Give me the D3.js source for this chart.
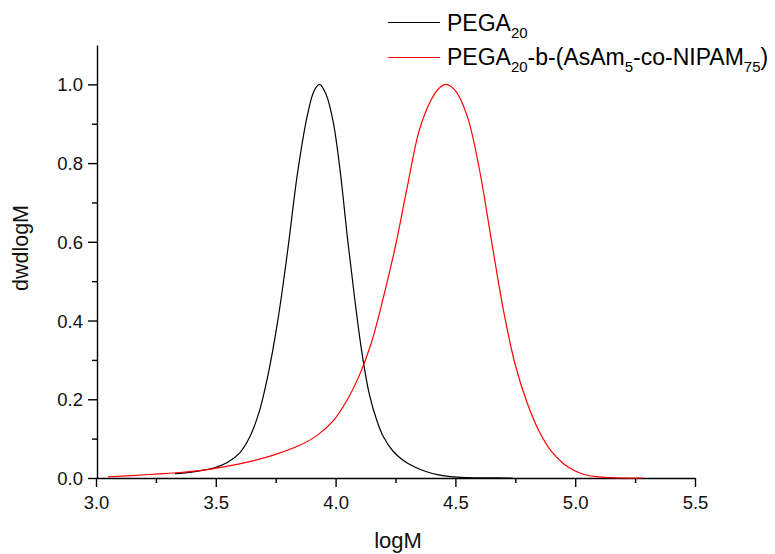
<!DOCTYPE html>
<html>
<head>
<meta charset="utf-8">
<script src="https://cdn.jsdelivr.net/npm/d3@7"></script>
<style>
  html, body { margin: 0; padding: 0; background: #fff; }
  svg { display: block; font-family: "Liberation Sans", Arial, sans-serif; }
</style>
</head>
<body>
<svg id="chart" width="775" height="554"></svg>
<script>
// GPC traces (normalised dw/dlogM vs logM)
const pegaLogM = [3.33, 3.40, 3.45, 3.50, 3.55, 3.60, 3.64, 3.68, 3.72, 3.76, 3.80, 3.84, 3.88, 3.91, 3.933, 3.96, 3.99, 4.02, 4.05, 4.08, 4.11, 4.14, 4.17, 4.20, 4.24, 4.28, 4.33, 4.38, 4.43, 4.48, 4.55, 4.62, 4.74];
const pegaW    = [0.011, 0.015, 0.020, 0.027, 0.040, 0.064, 0.102, 0.166, 0.268, 0.405, 0.578, 0.770, 0.915, 0.983, 1.000, 0.975, 0.905, 0.775, 0.607, 0.454, 0.318, 0.215, 0.150, 0.104, 0.068, 0.046, 0.028, 0.016, 0.008, 0.0035, 0.0012, 0.0004, 0.000];

const blockLogM = [3.05, 3.15, 3.25, 3.35, 3.45, 3.55, 3.65, 3.75, 3.85, 3.92, 3.99, 4.05, 4.10, 4.15, 4.20, 4.25, 4.30, 4.35, 4.40, 4.43, 4.461, 4.50, 4.55, 4.60, 4.65, 4.70, 4.75, 4.80, 4.85, 4.90, 4.95, 5.00, 5.05, 5.10, 5.15, 5.20, 5.28];
const blockW    = [0.003, 0.006, 0.010, 0.014, 0.020, 0.030, 0.043, 0.060, 0.083, 0.107, 0.145, 0.200, 0.262, 0.345, 0.460, 0.590, 0.742, 0.885, 0.962, 0.989, 1.000, 0.984, 0.918, 0.785, 0.605, 0.428, 0.287, 0.190, 0.118, 0.068, 0.037, 0.018, 0.007, 0.003, 0.001, 0.000, 0.000];

const xMajorTicks = [3.0, 3.5, 4.0, 4.5, 5.0, 5.5];
const xMinorTicks = [3.25, 3.75, 4.25, 4.75, 5.25];
const yMajorTicks = [0.0, 0.2, 0.4, 0.6, 0.8, 1.0];
const yMinorTicks = [0.1, 0.3, 0.5, 0.7, 0.9];

const xTitle = "logM";
const yTitle = "dwdlogM";

const svg = d3.select("#chart");
const plot = { left: 97, right: 695, top: 45, bottom: 478 };

const x = d3.scaleLinear().domain([3.0, 5.5]).range([plot.left - 1, plot.right]);
const y = d3.scaleLinear().domain([0, 1.1]).range([plot.bottom, plot.top]);

// minor ticks first (no labels)
svg.append("g")
  .attr("transform", `translate(0,${plot.bottom})`)
  .call(d3.axisBottom(x).tickValues(xMinorTicks).tickSize(5).tickFormat(""))
  .call(g => g.select(".domain").remove());
svg.append("g")
  .attr("transform", `translate(${plot.left},0)`)
  .call(d3.axisLeft(y).tickValues(yMinorTicks).tickSize(5).tickFormat(""))
  .call(g => g.select(".domain").remove());

const xAxis = svg.append("g")
  .attr("transform", `translate(0,${plot.bottom})`)
  .call(d3.axisBottom(x).tickValues(xMajorTicks).tickSize(9).tickSizeOuter(0).tickPadding(6).tickFormat(d3.format(".1f")));
const yAxis = svg.append("g")
  .attr("transform", `translate(${plot.left},0)`)
  .call(d3.axisLeft(y).tickValues(yMajorTicks).tickSize(9).tickSizeOuter(0).tickPadding(5).tickFormat(d3.format(".1f")));

svg.selectAll(".tick line, .domain").attr("stroke", "#000").attr("stroke-width", 1.4);
svg.selectAll(".tick text").attr("font-size", 18.5).attr("fill", "#111")
  .attr("font-family", "Liberation Sans, Arial, sans-serif");
xAxis.selectAll(".tick text").attr("dy", "0.85em");
yAxis.selectAll(".tick text").attr("dy", "0.35em");

// axis titles
svg.append("text")
  .attr("x", (plot.left + plot.right) / 2 + 2).attr("y", 548)
  .attr("text-anchor", "middle").attr("font-size", 22).attr("fill", "#111")
  .text(xTitle);
svg.append("text")
  .attr("transform", `translate(28,${248}) rotate(-90)`)
  .attr("text-anchor", "middle").attr("font-size", 21.5).attr("fill", "#111")
  .text(yTitle);

// traces
const line = d3.line()
  .x(d => x(d[0])).y(d => y(Math.max(0, d[1])))
  .curve(d3.curveCatmullRom.alpha(0.5));

const pega = d3.zip(pegaLogM, pegaW);
const block = d3.zip(blockLogM, blockW);

svg.append("path").datum(pega)
  .attr("fill", "none").attr("stroke", "#000").attr("stroke-width", 1.2).attr("d", line);
svg.append("path").datum(block)
  .attr("fill", "none").attr("stroke", "#ff0000").attr("stroke-width", 1.2).attr("d", line);

// legend
const legend = svg.append("g").attr("font-size", 23).attr("fill", "#000");
const rows = [
  { color: "#000", ly: 22.5, by: 31, parts: [["PEGA", 0], ["20", 1]] },
  { color: "#ff0000", ly: 57.5, by: 65, parts: [["PEGA", 0], ["20", 1], ["-b-(AsAm", 0], ["5", 1], ["-co-NIPAM", 0], ["75", 1], [")", 0]] }
];
rows.forEach(r => {
  legend.append("line")
    .attr("x1", 388).attr("x2", 440).attr("y1", r.ly).attr("y2", r.ly)
    .attr("stroke", r.color).attr("stroke-width", 1.2);
  const t = legend.append("text").attr("x", 447).attr("y", r.by);
  r.parts.forEach(([s, sub], i) => {
    const ts = t.append("tspan").text(s);
    if (sub) ts.attr("font-size", 15).attr("dy", 7);
    else if (i > 0) ts.attr("dy", -7);
  });
});
</script>
</body>
</html>
